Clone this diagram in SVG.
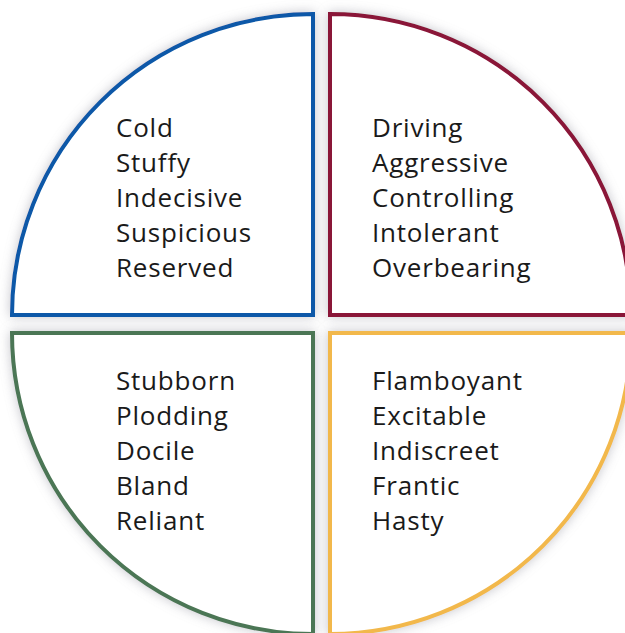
<svg xmlns="http://www.w3.org/2000/svg" width="625" height="633" viewBox="0 0 625 633">
  <defs>
    <filter id="soft-shadow" x="-10%" y="-10%" width="120%" height="120%">
      <feGaussianBlur in="SourceAlpha" stdDeviation="6" result="blur"/>
      <feFlood flood-color="#8a8a96" flood-opacity="0.5"/>
      <feComposite in2="blur" operator="in" result="shadow"/>
      <feMerge>
        <feMergeNode in="shadow"/>
        <feMergeNode in="SourceGraphic"/>
      </feMerge>
    </filter>
  </defs>
  <style>
    .quad { fill: #ffffff; stroke-width: 4; filter: url(#soft-shadow); }
    .label { font-family: "Open Sans", "Liberation Sans", sans-serif; font-size: 26px; letter-spacing: 0.8px; fill: #1a1a1a; }
  </style>
  <rect width="625" height="633" fill="#ffffff"/>

  <g id="cold-quadrant">
    <path class="quad" stroke="#0b58a8" d="M 313 315 H 12 A 301 301 0 0 1 313 14 Z"/>
    <text class="label" x="116" y="137">Cold</text>
    <text class="label" x="116" y="172">Stuffy</text>
    <text class="label" x="116" y="207">Indecisive</text>
    <text class="label" x="116" y="242">Suspicious</text>
    <text class="label" x="116" y="277">Reserved</text>
  </g>

  <g id="driving-quadrant">
    <path class="quad" stroke="#8a1538" d="M 330 315 V 14 A 301 301 0 0 1 631 315 Z"/>
    <text class="label" x="372" y="137">Driving</text>
    <text class="label" x="372" y="172">Aggressive</text>
    <text class="label" x="372" y="207">Controlling</text>
    <text class="label" x="372" y="242">Intolerant</text>
    <text class="label" x="372" y="277">Overbearing</text>
  </g>

  <g id="stubborn-quadrant">
    <path class="quad" stroke="#4b7654" d="M 313 333 H 12 A 301 301 0 0 0 313 634 Z"/>
    <text class="label" x="116" y="390">Stubborn</text>
    <text class="label" x="116" y="425">Plodding</text>
    <text class="label" x="116" y="460">Docile</text>
    <text class="label" x="116" y="495">Bland</text>
    <text class="label" x="116" y="530">Reliant</text>
  </g>

  <g id="flamboyant-quadrant">
    <path class="quad" stroke="#f2b84c" d="M 330 333 H 631 A 301 301 0 0 1 330 634 Z"/>
    <text class="label" x="372" y="390">Flamboyant</text>
    <text class="label" x="372" y="425">Excitable</text>
    <text class="label" x="372" y="460">Indiscreet</text>
    <text class="label" x="372" y="495">Frantic</text>
    <text class="label" x="372" y="530">Hasty</text>
  </g>

  <g id="connectors"/>
</svg>
